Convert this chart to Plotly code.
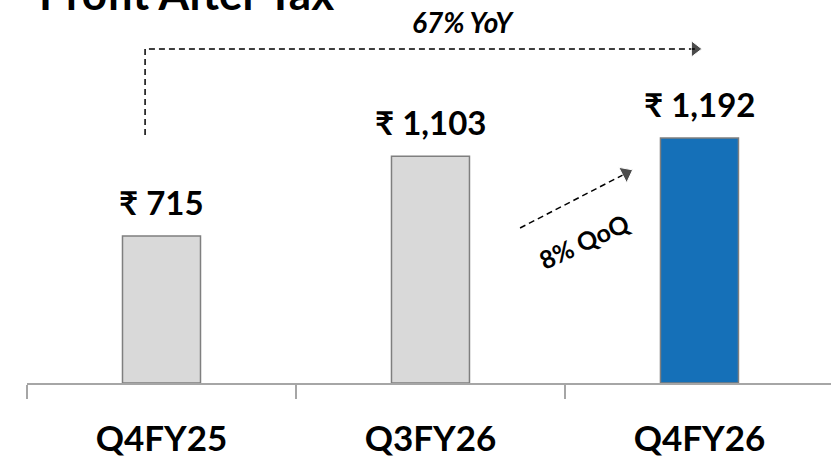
import plotly.graph_objects as go

# ==== data ====
quarters = ["Q4FY25", "Q3FY26", "Q4FY26"]
pat_values = [715, 1103, 1192]
bar_colors = ["#D9D9D9", "#D9D9D9", "#1570B8"]
yoy_text = "67% YoY"
qoq_text = "8% QoQ"
title_text = "Profit After Tax"

FONT = "Lato, 'Noto Sans', sans-serif"
positions = list(range(len(quarters)))

fig = go.Figure()
fig.add_trace(
    go.Bar(
        x=positions,
        y=pat_values,
        marker=dict(color=bar_colors, line=dict(color="#7F7F7F", width=1.5)),
        width=0.29,
        hoverinfo="skip",
    )
)

# value labels above bars
for pos, value in zip(positions, pat_values):
    fig.add_annotation(
        x=pos, y=value, text=f"<b>₹ {value:,}</b>", showarrow=False,
        yanchor="bottom", yshift=12, font=dict(family=FONT, size=33, color="#000000"),
    )

# YoY dashed elbow arrow (from above first bar to above last bar)
fig.add_trace(
    go.Scatter(
        x=[-0.061, -0.061, 1.983],
        y=[1206, 1625, 1625],
        mode="lines+markers",
        line=dict(color="#000000", width=1.5, dash="6px,4px"),
        marker=dict(symbol="triangle-right", size=[0, 0, 14], color="#000000"),
        hoverinfo="skip",
    )
)
fig.add_annotation(
    x=(463 - 27) / 804, y=1 - 22 / 383, xref="paper", yref="paper",
    xanchor="center", yanchor="middle", text=f"<b><i>{yoy_text}</i></b>",
    showarrow=False, font=dict(family=FONT, size=28, color="#000000"),
)

# QoQ dashed diagonal arrow
fig.add_trace(
    go.Scatter(
        x=[1.333, 1.727],
        y=[754, 1020],
        mode="lines+markers",
        line=dict(color="#000000", width=1.5, dash="6px,4px"),
        marker=dict(symbol="triangle-up", size=[0, 15], color="#000000", angleref="previous"),
        hoverinfo="skip",
    )
)
fig.add_annotation(
    x=1.57, y=690, text=f"<b>{qoq_text}</b>", showarrow=False, textangle=-25,
    font=dict(family=FONT, size=25, color="#000000"),
)

fig.add_annotation(
    x=(37 - 27) / 804, y=1.0 + 7 / 383, xref="paper", yref="paper",
    xanchor="left", yanchor="middle",
    text=f"<b>{title_text}</b>", showarrow=False,
    font=dict(family=FONT, size=44, color="#000000"),
)

fig.update_layout(
    width=831,
    height=457,
    margin=dict(l=27, r=0, t=0, b=74),
    paper_bgcolor="#FFFFFF",
    plot_bgcolor="#FFFFFF",
    showlegend=False,
    font=dict(family=FONT),
)
fig.update_xaxes(
    range=[-0.5, 2.489],
    tickmode="array",
    tickvals=positions,
    ticktext=[f"<b>{q}</b>" for q in quarters],
    tickfont=dict(family=FONT, size=35, color="#000000"),
    ticks="",
    ticklabelstandoff=24,
    showline=True,
    linecolor="#A6A6A6",
    linewidth=1.5,
    showgrid=False,
    zeroline=False,
    minor=dict(
        tickvals=[p - 0.5 for p in positions] + [positions[-1] + 0.5],
        ticks="outside", ticklen=14, tickcolor="#A6A6A6", tickwidth=1.5, showgrid=False,
    ),
)
fig.update_yaxes(range=[0, 1863], visible=False, showgrid=False, zeroline=False)

fig.write_html(
    "out.html",
    config={"displayModeBar": False},
    post_script="document.body.style.margin='0';",
)
